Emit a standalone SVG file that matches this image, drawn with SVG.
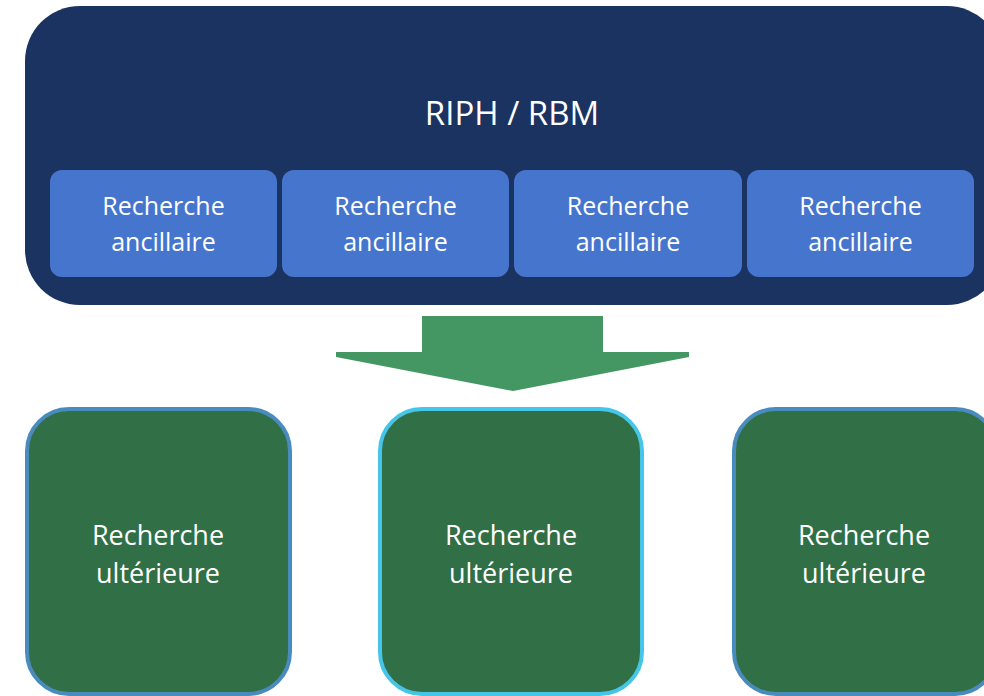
<svg xmlns="http://www.w3.org/2000/svg" width="984" height="696" viewBox="0 0 984 696">
<style>
  .t { font-family: "Open Sans", "Liberation Sans", sans-serif; fill: #ffffff; text-anchor: middle; }
  .small { fill: #4675cd; }
  .big { fill: #316f47; stroke-width: 4; }
</style>
<rect x="0" y="0" width="984" height="696" fill="#ffffff"/>
<g id="riph">
  <rect x="25" y="6" width="977" height="299" rx="55" ry="55" fill="#1b3360"/>
  <text class="t" x="512" y="125" font-size="33">RIPH / RBM</text>
</g>
<g id="anc1">
  <rect class="small" x="50" y="170" width="227" height="107" rx="12"/>
  <text class="t" x="163.5" y="215" font-size="25">Recherche</text>
  <text class="t" x="163.5" y="251" font-size="25">ancillaire</text>
</g>
<g id="anc2">
  <rect class="small" x="282" y="170" width="227" height="107" rx="12"/>
  <text class="t" x="395.5" y="215" font-size="25">Recherche</text>
  <text class="t" x="395.5" y="251" font-size="25">ancillaire</text>
</g>
<g id="anc3">
  <rect class="small" x="514" y="170" width="228" height="107" rx="12"/>
  <text class="t" x="628" y="215" font-size="25">Recherche</text>
  <text class="t" x="628" y="251" font-size="25">ancillaire</text>
</g>
<g id="anc4">
  <rect class="small" x="747" y="170" width="227" height="107" rx="12"/>
  <text class="t" x="860.5" y="215" font-size="25">Recherche</text>
  <text class="t" x="860.5" y="251" font-size="25">ancillaire</text>
</g>
<g id="connectors">
  <polygon points="422,316 603,316 603,352 689,352 689,357 513,391 336,357 336,352 422,352" fill="#449763"/>
</g>
<g id="ult1">
  <rect class="big" x="27" y="409" width="263" height="285" rx="42" stroke="#4a8bbd"/>
  <text class="t" x="158" y="545" font-size="27">Recherche</text>
  <text class="t" x="158" y="583" font-size="27">ultérieure</text>
</g>
<g id="ult2">
  <rect class="big" x="380" y="409" width="262" height="285" rx="42" stroke="#45c6e8"/>
  <text class="t" x="511" y="545" font-size="27">Recherche</text>
  <text class="t" x="511" y="583" font-size="27">ultérieure</text>
</g>
<g id="ult3">
  <rect class="big" x="734" y="409" width="263" height="285" rx="42" stroke="#4a8bbd"/>
  <text class="t" x="864" y="545" font-size="27">Recherche</text>
  <text class="t" x="864" y="583" font-size="27">ultérieure</text>
</g>
</svg>
